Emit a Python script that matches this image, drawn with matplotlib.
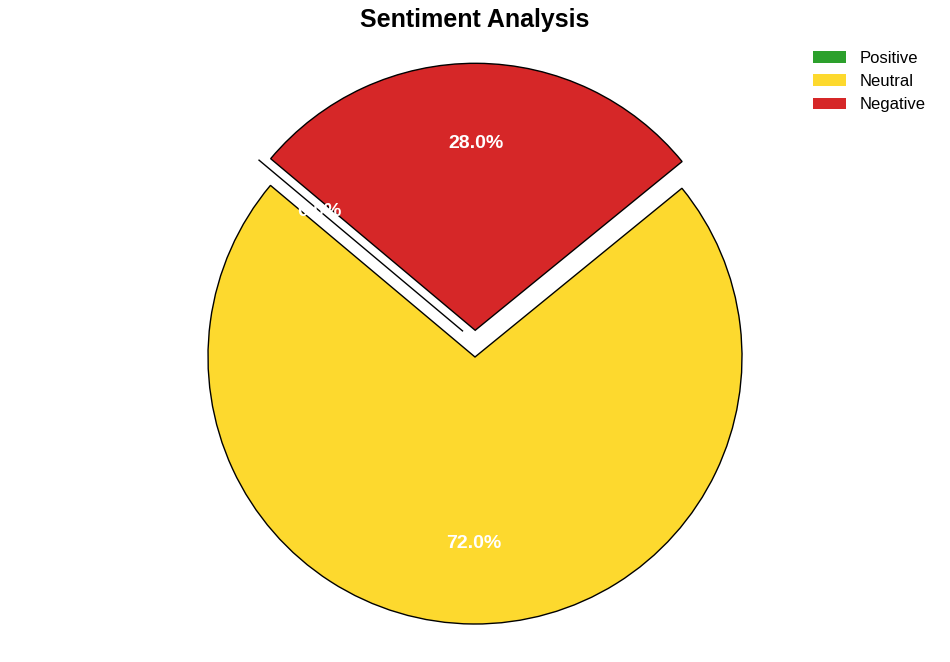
import numpy as np
import matplotlib.pyplot as plt
import matplotlib.patches as mpatches

plt.rcParams['font.family'] = ['Liberation Sans', 'DejaVu Sans']

labels = ["Positive", "Neutral", "Negative"]
sizes = [0, 72, 28]
colors = ["#2ca02c", "#fdd92e", "#d62728"]
explode = [0.1, 0, 0.1]

fig = plt.figure(figsize=(9.5, 6.62), dpi=100)
ax = fig.add_axes([0, 0, 1, 1])

wedges, texts, autotexts = ax.pie(sizes, labels=None, colors=colors, explode=explode,
                                  autopct='%1.1f%%', startangle=140, pctdistance=0.7,
                                  wedgeprops={'edgecolor': 'black', 'linewidth': 1})
for t in autotexts:
    t.set_color('white')
    t.set_fontweight('bold')
    t.set_fontsize(14)

# the empty slice sits a little off its neighbour's edge in the reference
nudge = 0.045 * np.array([np.cos(np.deg2rad(45)), np.sin(np.deg2rad(45))])
cx, cy = wedges[0].center
wedges[0].set_center((cx + nudge[0], cy + nudge[1]))
wedges[0].set_zorder(3)
tx, ty = autotexts[0].get_position()
autotexts[0].set_position((tx + nudge[0], ty + nudge[1]))
autotexts[0].set_zorder(4)

r = 267.0
ax.set_xlim(-475 / r, 475 / r)
ax.set_ylim(-305 / r, 357 / r)
ax.axis('off')

fig.text(0.5, 1 - 20 / 662, "Sentiment Analysis", ha='center', va='center',
         fontsize=18, fontweight='bold')
handles = [mpatches.Patch(facecolor=c, edgecolor='none') for c in colors]
fig.legend(handles, labels, loc='upper right', bbox_to_anchor=(0.99, 0.946),
           frameon=False, fontsize=12, handlelength=2.0)

plt.savefig("out.png")
